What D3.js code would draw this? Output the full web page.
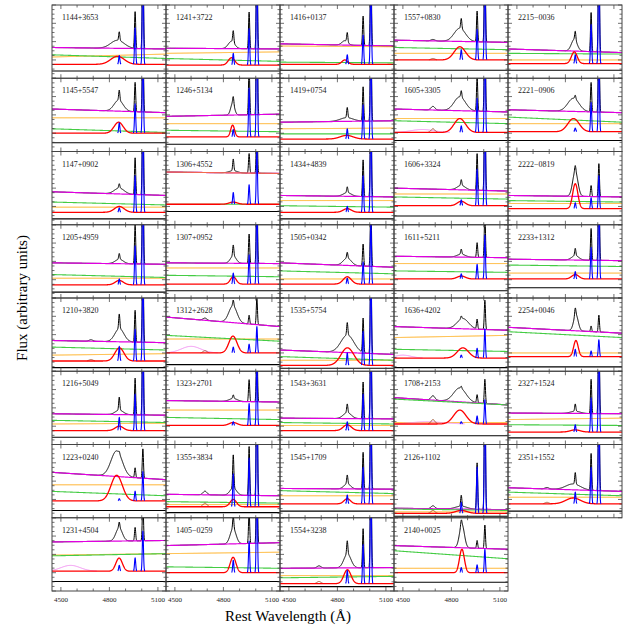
<!DOCTYPE html>
<html>
<head>
<meta charset="utf-8">
<script src="https://cdn.jsdelivr.net/npm/d3@7"></script>
<style>
  body { margin: 0; background: #fff; }
  text { font-family: "Liberation Serif", "Times New Roman", serif; }
</style>
</head>
<body>
<div class="chart"></div>
<script>
// panel names, column by column (8 per column, 7 in the last one)
var names = ["1144+3653","1145+5547","1147+0902","1205+4959","1210+3820","1216+5049","1223+0240","1231+4504",
  "1241+3722","1246+5134","1306+4552","1307+0952","1312+2628","1323+2701","1355+3834","1405\u22120259",
  "1416+0137","1419+0754","1434+4839","1505+0342","1535+5754","1543+3631","1545+1709","1554+3238",
  "1557+0830","1605+3305","1606+3324","1611+5211","1636+4202","1708+2153","2126+1102","2140+0025",
  "2215\u22120036","2221\u22120906","2222\u22120819","2233+1312","2254+0046","2327+1524","2351+1552"];

// levels are fractions of panel height (0 = bottom, 1 = top)
// total continuum model (magenta), left and right end
var magL = [0.42,0.58,0.45,0.48,0.42,0.42,0.62,0.67, 0.41,0.48,0.72,0.48,0.74,0.60,0.32,0.62, 0.47,0.40,0.40,0.48,0.29,0.36,0.40,0.31, 0.52,0.58,0.50,0.57,0.61,0.64,0.13,0.62, 0.40,0.57,0.40,0.53,0.60,0.43,0.41];
var magR = [0.40,0.53,0.40,0.46,0.39,0.40,0.52,0.69, 0.40,0.51,0.70,0.47,0.61,0.58,0.30,0.66, 0.44,0.42,0.38,0.42,0.23,0.35,0.39,0.32, 0.49,0.54,0.46,0.55,0.56,0.54,0.11,0.57, 0.35,0.53,0.38,0.51,0.52,0.42,0.36];
// power law (green)
var grnL = [0.32,0.31,0.31,0.32,0.33,0.33,0.36,0.48, 0.27,0.29,0.28,0.31,0.49,0.37,0.22,0.33, 0.22,0.24,0.26,0.37,0.20,0.30,0.37,0.18, 0.42,0.42,0.38,0.37,0.30,0.62,0.12,0.55, 0.34,0.47,0.33,0.45,0.54,0.27,0.35];
var grnR = [0.27,0.26,0.27,0.28,0.29,0.30,0.30,0.51, 0.23,0.27,0.28,0.29,0.41,0.34,0.20,0.31, 0.21,0.24,0.24,0.33,0.15,0.28,0.33,0.20, 0.39,0.38,0.35,0.35,0.27,0.54,0.10,0.44, 0.33,0.40,0.31,0.43,0.46,0.26,0.30];
// Fe II (orange)
var orgL = [0.29,0.46,0.24,0.27,0.22,0.28,0.45,0.49, 0.34,0.38,0.72,0.41,0.44,0.47,0.18,0.51, 0.44,0.31,0.33,0.26,0.15,0.26,0.30,0.21, 0.34,0.45,0.42,0.47,0.46,0.30,0.08,0.31, 0.25,0.38,0.29,0.34,0.25,0.34,0.28];
var orgR = [0.33,0.46,0.24,0.27,0.24,0.29,0.45,0.51, 0.36,0.38,0.70,0.41,0.44,0.47,0.18,0.53, 0.43,0.32,0.33,0.26,0.15,0.26,0.30,0.21, 0.34,0.45,0.42,0.47,0.49,0.30,0.08,0.31, 0.25,0.38,0.29,0.34,0.25,0.36,0.28];
// zero line of the line fits (red) and residual level
var base = [0.19,0.25,0.17,0.18,0.14,0.19,0.23,0.27, 0.18,0.20,0.28,0.19,0.25,0.26,0.15,0.25, 0.19,0.17,0.17,0.19,0.08,0.19,0.19,0.10, 0.25,0.26,0.26,0.26,0.18,0.28,0.06,0.25, 0.20,0.27,0.22,0.26,0.20,0.17,0.19];
var resid = [0.10,0.12,0.08,0.08,0.05,0.10,0.10,0.13, 0.10,0.10,0.18,0.10,0.09,0.10,0.07,0.13, 0.11,0.10,0.08,0.10,0.04,0.10,0.09,0.06, 0.11,0.15,0.12,0.10,0.05,0.12,0.02,0.12, 0.11,0.15,0.12,0.14,0.06,0.09,0.09];
// broad H-beta: centre (A), sigma (A), height
var brC = [4850,4857,4861,4861,4862,4861,4845,4860, 4850,4857,4861,4861,4859,4861,4861,4860, 4846,4857,4861,4861,4862,4861,4861,4862, 4852,4852,4861,4861,4871,4852,4861,4865, 4855,4850,4861,4861,4865,4861,4848];
var brS = [42,28,30,25,28,25,35,20, 20,12,25,18,25,25,20,18, 18,40,25,25,40,25,20,22, 35,35,25,25,35,38,35,15, 18,35,16,22,14,30,45];
var brA = [0.11,0.15,0.08,0.06,0.18,0.06,0.35,0.18, 0.10,0.16,0.03,0.10,0.23,0.04,0.10,0.21, 0.06,0.05,0.05,0.10,0.24,0.08,0.07,0.19, 0.18,0.19,0.06,0.04,0.14,0.19,0.04,0.32, 0.16,0.18,0.34,0.06,0.22,0.03,0.08];
// narrow H-beta and [O III] 5007 heights
var nA = [0.12,0.14,0.06,0.08,0.20,0.18,0.03,0.08, 0.16,0.10,0.16,0.15,0.08,0.05,0.45,0.17, 0.13,0.14,0.08,0.08,0.17,0.12,0.12,0.18, 0.14,0.09,0.08,0.07,0.04,0.03,0.15,0.07, 0.12,0.05,0.08,0.10,0.10,0.10,0.16];
var oA = [1.5,1.2,1.5,1.6,1.3,1.5,0.4,0.55, 1.5,2.0,0.8,1.2,0.36,0.9,2.0,1.3, 1.2,1.4,1.5,0.9,1.4,1.5,1.5,1.6, 1.25,1.4,1.5,0.6,0.40,0.33,1.9,0.32, 1.6,1.2,0.45,1.3,0.23,1.4,1.5];
// broad hump (violet): centre, sigma, height
var viC = [0,0,0,0,0,0,0,4560, 0,0,0,0,4600,0,0,0, 0,0,0,0,0,0,0,0, 0,4620,0,0,4500,4650,0,0, 0,0,0,0,0,0,0];
var viS = [0,0,0,0,0,0,0,60, 0,0,0,0,60,0,0,0, 0,0,0,0,0,0,0,0, 0,70,0,0,50,100,0,0, 0,0,0,0,0,0,0];
var viA = [0,0,0,0,0,0,0,0.08, 0,0,0,0,0.09,0,0,0, 0,0,0,0,0,0,0,0, 0,0.04,0,0,0.04,0.03,0,0, 0,0,0,0,0,0,0];
// He II 4686 (brown)
var heA = [0,0,0,0,0.02,0,0,0, 0,0,0,0,0.03,0,0.05,0, 0,0,0,0,0,0,0,0.03, 0.02,0.05,0,0,0,0.06,0.04,0, 0,0,0,0,0,0,0.02];

var xTicks = [4500,4600,4700,4800,4900,5000,5100];
var xLabels = [4500,4800,5100];

var svgWidth = 630, svgHeight = 630;
var colX = [52,166,280,394,508];
var panelW = 114, panelH = 73.25, top0 = 5;
var nRows = 8;

var svg = d3.select(".chart").append("svg")
    .attr("width", svgWidth)
    .attr("height", svgHeight);

var xScale = d3.scaleLinear().domain([4445,5150]).range([0,panelW]);
var yScale = d3.scaleLinear().domain([0,1]).range([panelH,0]);
var grid = d3.range(4445,5151,1);

function gauss(l,c,s,a) { return a*Math.exp(-0.5*((l-c)/s)*((l-c)/s)); }
function lin(l,a,b) { return a + (b-a)*(l-4445)/705; }

names.forEach(function (name,i) {
    var c = Math.floor(i/nRows), r = i % nRows;
    var g = svg.append("g")
        .attr("transform", "translate(" + colX[c] + "," + (top0 + r*panelH) + ")");

    g.append("clipPath").attr("id","clip"+i)
      .append("rect").attr("width",panelW).attr("height",panelH);
    var plot = g.append("g").attr("clip-path","url(#clip"+i+")");

    function narrow(l) {
        return gauss(l,4861,3.6,nA[i]) + gauss(l,4959,3.6,oA[i]/3) + gauss(l,5007,3.6,oA[i]);
    }
    function broad(l) { return gauss(l,brC[i],brS[i],brA[i]); }
    function heII(l) { return gauss(l,4686,12,heA[i]); }
    function hump(l) { return viA[i] ? gauss(l,viC[i],viS[i],viA[i]) : 0; }

    function draw(fn, color, w, cut) {
        var line = d3.line()
            .x(function (l) { return xScale(l); })
            .y(function (l) { return yScale(fn(l)); });
        if (cut) line.defined(cut);
        plot.append("path").datum(grid)
            .attr("d", line)
            .attr("fill","none")
            .attr("stroke",color)
            .attr("stroke-width",w)
            .attr("stroke-linejoin","round");
    }

    // observed spectrum
    draw(function (l) { return lin(l,magL[i],magR[i]) + broad(l) + narrow(l) + heII(l); }, "#000", 1);
    // model components
    draw(function (l) { return lin(l,magL[i],magR[i]); }, "#e000e0", 1.2);
    draw(function (l) { return lin(l,orgL[i],orgR[i]); }, "#ffa500", 1);
    draw(function (l) { return lin(l,grnL[i],grnR[i]); }, "#44cc44", 1.1);
    if (viA[i]) draw(function (l) { return base[i] + hump(l); }, "#ee88ee", 1, function (l) { return hump(l) > 0.002; });
    if (heA[i]) draw(function (l) { return base[i] + heII(l); }, "#a0522d", 1, function (l) { return heII(l) > 0.002; });
    draw(function (l) { return base[i] + broad(l); }, "#ff0000", 1.3);
    draw(function (l) { return base[i] + narrow(l); }, "#0000ff", 1.1, function (l) { return narrow(l) > 0.002; });
    // residual
    draw(function () { return resid[i]; }, "#000", 1.1);

    // ticks on all sides
    var yT = d3.range(0,1.0001,1/16);
    g.selectAll(".xt").data(xTicks).enter().append("line")
        .attr("x1", function (d) { return xScale(d); }).attr("x2", function (d) { return xScale(d); })
        .attr("y1", panelH).attr("y2", function (d) { return panelH - (xLabels.indexOf(d) >= 0 ? 4 : 2.5); })
        .attr("stroke","#333").attr("stroke-width",0.7);
    g.selectAll(".xt2").data(xTicks).enter().append("line")
        .attr("x1", function (d) { return xScale(d); }).attr("x2", function (d) { return xScale(d); })
        .attr("y1", 0).attr("y2", function (d) { return (xLabels.indexOf(d) >= 0 ? 4 : 2.5); })
        .attr("stroke","#333").attr("stroke-width",0.7);
    g.selectAll(".yt").data(yT).enter().append("line")
        .attr("x1",0).attr("x2", function (d,k) { return k % 4 === 0 ? 4 : 2.5; })
        .attr("y1", function (d) { return yScale(d); }).attr("y2", function (d) { return yScale(d); })
        .attr("stroke","#333").attr("stroke-width",0.7);
    g.selectAll(".yt2").data(yT).enter().append("line")
        .attr("x1",panelW).attr("x2", function (d,k) { return panelW - (k % 4 === 0 ? 4 : 2.5); })
        .attr("y1", function (d) { return yScale(d); }).attr("y2", function (d) { return yScale(d); })
        .attr("stroke","#333").attr("stroke-width",0.7);

    g.append("rect")
        .attr("width",panelW).attr("height",panelH)
        .attr("fill","none").attr("stroke","#444").attr("stroke-width",1);

    g.append("text")
        .attr("x",10).attr("y",15)
        .attr("font-size","8px")
        .attr("fill","#222")
        .text(name);

    // wavelength labels under the bottom row
    if (r === nRows-1) {
        g.selectAll(".xl").data(xLabels).enter().append("text")
            .attr("x", function (d) { return xScale(d); })
            .attr("y", panelH + 11)
            .attr("text-anchor","middle")
            .attr("font-size","7px")
            .attr("fill","#222")
            .text(function (d) { return d; });
    }
});

svg.append("text")
    .attr("x",288).attr("y",621)
    .attr("text-anchor","middle")
    .attr("font-size","15px")
    .text("Rest Wavelength (\u00c5)");

svg.append("text")
    .attr("transform","translate(27,298) rotate(-90)")
    .attr("text-anchor","middle")
    .attr("font-size","15px")
    .text("Flux (arbitrary units)");
</script>
</body>
</html>
